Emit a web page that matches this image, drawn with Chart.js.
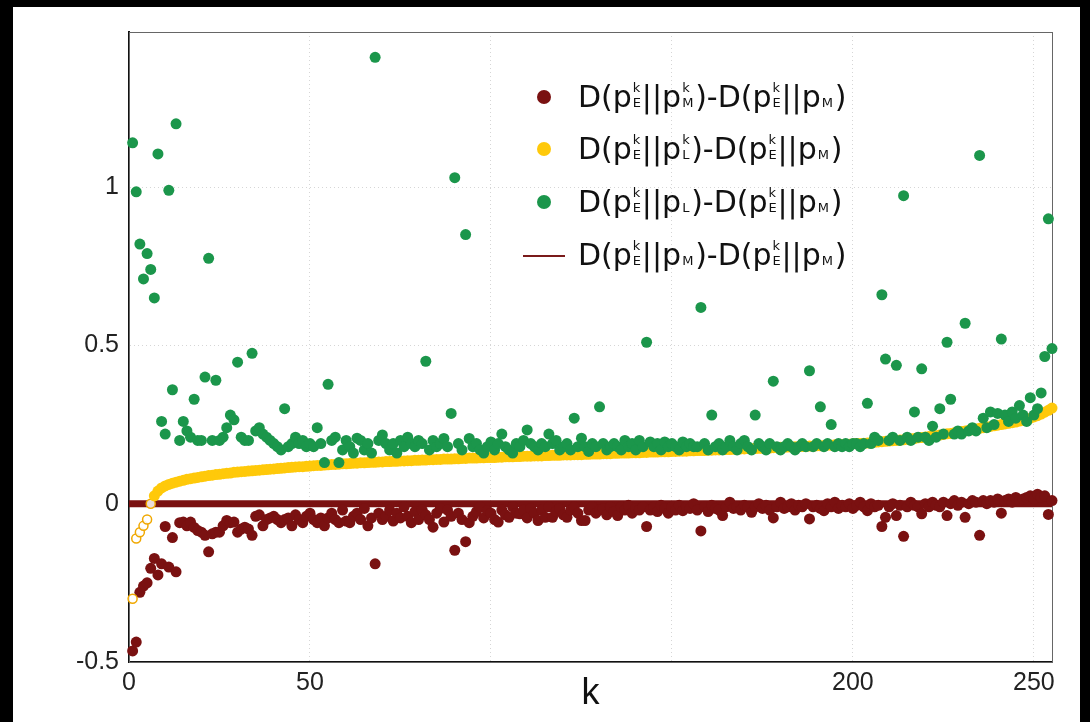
<!DOCTYPE html>
<html>
<head>
<meta charset="utf-8">
<script src="https://cdn.jsdelivr.net/npm/chart.js@4"></script>
<style>
  body { margin:0; background:#000; width:1090px; height:722px; overflow:hidden; position:relative; }
  #panel { position:absolute; left:13px; top:7px; width:1067px; height:715px; background:#fff; }
  #legend { position:absolute; left:520px; top:70px; width:400px; height:220px; font-family:"DejaVu Sans", sans-serif; font-size:30px; color:#111; }
  .row { position:absolute; left:0; height:54px; width:400px; line-height:54px; white-space:nowrap; }
  .dot { position:absolute; left:17px; top:20px; width:14px; height:14px; border-radius:50%; }
  .ln { position:absolute; left:3px; top:27px; width:42px; height:2px; background:#7a1a1a; }
  .txt { position:absolute; left:58px; top:0; }
  .ss { display:inline-block; position:relative; width:10px; height:1px; }
  .ss.w { width:14px; }
  .ss .u, .ss .d { position:absolute; left:1px; font-size:13px; line-height:1; }
  .ss .u { bottom:13px; }
  .ss .d { bottom:-2px; }
</style>
</head>
<body>
<div id="panel"><canvas id="c" width="1067" height="715"></canvas></div>
<div id="legend">
  <div class="row" style="top:0px"><span class="dot" style="background:#7a1111"></span><span class="txt">D(p<span class="ss"><span class="u">k</span><span class="d">E</span></span>||p<span class="ss w"><span class="u">k</span><span class="d">M</span></span>)-D(p<span class="ss"><span class="u">k</span><span class="d">E</span></span>||p<span class="ss w"><span class="d">M</span></span>)</span></div>
  <div class="row" style="top:52px"><span class="dot" style="background:#ffc90a"></span><span class="txt">D(p<span class="ss"><span class="u">k</span><span class="d">E</span></span>||p<span class="ss"><span class="u">k</span><span class="d">L</span></span>)-D(p<span class="ss"><span class="u">k</span><span class="d">E</span></span>||p<span class="ss w"><span class="d">M</span></span>)</span></div>
  <div class="row" style="top:105px"><span class="dot" style="background:#1b964b"></span><span class="txt">D(p<span class="ss"><span class="u">k</span><span class="d">E</span></span>||p<span class="ss"><span class="d">L</span></span>)-D(p<span class="ss"><span class="u">k</span><span class="d">E</span></span>||p<span class="ss w"><span class="d">M</span></span>)</span></div>
  <div class="row" style="top:158px"><span class="ln"></span><span class="txt">D(p<span class="ss"><span class="u">k</span><span class="d">E</span></span>||p<span class="ss w"><span class="d">M</span></span>)-D(p<span class="ss"><span class="u">k</span><span class="d">E</span></span>||p<span class="ss w"><span class="d">M</span></span>)</span></div>
</div>
<script>
// values, k = 1..256 (index + 1)
var diffMk = [ // D(pE^k||pM^k)-D(pE^k||pM)
  -0.465,-0.437,-0.28,-0.26,-0.25,-0.204,-0.173,-0.225,-0.19,-0.072,
  -0.2,-0.107,-0.215,-0.06,-0.058,-0.07,-0.058,-0.075,-0.085,-0.09,
  -0.1,-0.152,-0.095,-0.09,-0.09,-0.07,-0.053,-0.06,-0.058,-0.09,
  -0.08,-0.074,-0.08,-0.1,-0.04,-0.035,-0.07,-0.05,-0.045,-0.04,
  -0.05,-0.06,-0.05,-0.045,-0.07,-0.035,-0.05,-0.06,-0.04,-0.03,
  -0.05,-0.06,-0.045,-0.07,-0.045,-0.03,-0.05,-0.06,-0.02,-0.055,
  -0.06,-0.04,-0.03,-0.05,-0.015,-0.07,-0.045,-0.19,-0.03,-0.05,
  -0.04,-0.02,-0.055,-0.03,-0.045,-0.01,-0.04,-0.06,-0.025,-0.05,
  -0.02,-0.035,-0.05,-0.074,-0.03,-0.015,-0.058,-0.02,-0.04,-0.147,
  -0.03,-0.05,-0.12,-0.06,-0.04,-0.025,-0.01,-0.045,-0.022,-0.03,
  -0.05,-0.058,-0.02,-0.035,-0.043,-0.01,-0.03,-0.032,-0.02,-0.045,
  -0.015,-0.03,-0.053,-0.02,-0.043,-0.01,-0.043,-0.025,-0.015,-0.035,
  -0.043,-0.02,-0.01,-0.03,-0.053,-0.053,-0.02,-0.01,-0.03,-0.02,
  -0.015,-0.035,-0.01,-0.025,-0.0375,-0.01,-0.02,-0.005,-0.03,-0.015,
  -0.02,-0.01,-0.072,-0.02,-0.01,-0.025,-0.005,-0.015,-0.03,-0.01,
  -0.02,-0.005,-0.022,-0.01,-0.015,0.0,-0.02,-0.086,-0.01,-0.025,
  -0.005,-0.015,-0.02,-0.0375,-0.01,0.005,-0.015,-0.01,-0.02,-0.005,
  -0.01,-0.027,-0.01,0.0,-0.015,-0.005,-0.02,-0.045,-0.01,0.005,
  -0.015,-0.01,0.0,-0.02,-0.005,-0.01,0.0,-0.048,-0.01,-0.005,
  -0.015,-0.022,0.0,-0.01,0.005,-0.015,-0.005,-0.01,0.0,-0.015,
  -0.005,0.005,-0.01,-0.022,0.0,-0.01,-0.005,-0.072,-0.043,-0.01,
  0.0,-0.0375,-0.005,-0.103,-0.01,0.005,-0.005,-0.01,-0.032,0.0,
  -0.01,0.005,-0.005,-0.01,0.005,-0.0375,0.0,0.01,-0.005,0.005,
  -0.043,0.0,0.01,0.005,-0.1,0.01,0.0,0.01,0.005,0.015,
  -0.03,0.01,0.015,0.005,0.02,0.01,0.015,0.02,0.025,0.015,
  0.03,0.02,0.025,-0.034,0.01,-0.01
];
var diffLk = [ // D(pE^k||pL^k)-D(pE^k||pM)
  -0.30,-0.11,-0.09,-0.07,-0.05,0.00,0.025,0.04,0.05,0.056,
  0.061,0.065,0.068,0.071,0.074,0.077,0.079,0.081,0.083,0.085,
  0.087,0.089,0.090,0.092,0.093,0.095,0.096,0.097,0.099,0.100,
  0.101,0.102,0.103,0.104,0.105,0.106,0.107,0.108,0.109,0.110,
  0.111,0.112,0.113,0.114,0.115,0.116,0.117,0.117,0.118,0.119,
  0.120,0.121,0.121,0.122,0.123,0.124,0.124,0.125,0.126,0.126,
  0.127,0.128,0.128,0.129,0.129,0.130,0.131,0.131,0.132,0.132,
  0.133,0.133,0.134,0.134,0.135,0.135,0.136,0.136,0.137,0.137,
  0.138,0.138,0.139,0.139,0.140,0.140,0.141,0.141,0.141,0.142,
  0.142,0.143,0.143,0.144,0.144,0.144,0.145,0.145,0.146,0.146,
  0.146,0.147,0.147,0.148,0.148,0.148,0.149,0.149,0.150,0.150,
  0.150,0.151,0.151,0.151,0.152,0.152,0.153,0.153,0.153,0.154,
  0.154,0.154,0.155,0.155,0.155,0.156,0.156,0.157,0.157,0.157,
  0.158,0.158,0.158,0.159,0.159,0.160,0.160,0.160,0.161,0.161,
  0.161,0.162,0.162,0.163,0.163,0.163,0.164,0.164,0.164,0.165,
  0.165,0.166,0.166,0.166,0.167,0.167,0.168,0.168,0.168,0.169,
  0.169,0.170,0.170,0.171,0.171,0.171,0.172,0.172,0.173,0.173,
  0.174,0.174,0.174,0.175,0.175,0.176,0.176,0.177,0.177,0.178,
  0.178,0.179,0.179,0.180,0.180,0.181,0.181,0.182,0.182,0.183,
  0.183,0.184,0.185,0.185,0.186,0.186,0.187,0.188,0.188,0.189,
  0.190,0.190,0.191,0.192,0.193,0.194,0.195,0.196,0.197,0.198,
  0.199,0.200,0.201,0.202,0.204,0.205,0.206,0.208,0.209,0.211,
  0.212,0.214,0.215,0.217,0.219,0.221,0.222,0.224,0.226,0.228,
  0.230,0.232,0.234,0.236,0.238,0.240,0.242,0.244,0.246,0.248,
  0.250,0.252,0.254,0.256,0.258,0.261,0.264,0.267,0.270,0.274,
  0.278,0.283,0.289,0.295,0.302,0.310
];
var diffL = [ // D(pE^k||pL)-D(pE^k||pM)
  1.14,0.985,0.82,0.71,0.79,0.74,0.65,1.105,0.26,0.22,
  0.99,0.36,1.20,0.20,0.26,0.23,0.21,0.33,0.20,0.20,
  0.40,0.775,0.20,0.39,0.20,0.21,0.24,0.28,0.265,0.447,
  0.21,0.20,0.20,0.475,0.23,0.24,0.22,0.21,0.20,0.19,
  0.18,0.17,0.30,0.18,0.19,0.21,0.19,0.20,0.18,0.19,
  0.18,0.24,0.19,0.13,0.377,0.20,0.21,0.13,0.17,0.20,
  0.18,0.16,0.207,0.20,0.17,0.19,0.16,1.41,0.20,0.217,
  0.19,0.17,0.19,0.16,0.20,0.18,0.21,0.19,0.18,0.20,
  0.19,0.45,0.17,0.20,0.18,0.19,0.206,0.18,0.285,1.03,
  0.19,0.17,0.85,0.206,0.18,0.19,0.17,0.16,0.18,0.195,
  0.17,0.19,0.22,0.18,0.17,0.16,0.19,0.18,0.20,0.233,
  0.19,0.18,0.17,0.19,0.18,0.22,0.19,0.20,0.17,0.18,
  0.19,0.17,0.27,0.18,0.207,0.18,0.165,0.19,0.18,0.306,
  0.19,0.17,0.18,0.19,0.18,0.17,0.20,0.18,0.19,0.17,
  0.20,0.18,0.51,0.195,0.18,0.19,0.17,0.195,0.18,0.19,
  0.18,0.17,0.195,0.18,0.19,0.18,0.18,0.62,0.19,0.17,
  0.28,0.18,0.19,0.17,0.18,0.20,0.18,0.17,0.19,0.20,
  0.18,0.17,0.28,0.19,0.18,0.17,0.19,0.387,0.18,0.17,
  0.18,0.19,0.18,0.17,0.18,0.19,0.18,0.42,0.18,0.19,
  0.306,0.18,0.19,0.25,0.18,0.19,0.18,0.19,0.18,0.19,
  0.19,0.18,0.19,0.317,0.19,0.21,0.20,0.66,0.457,0.20,
  0.21,0.437,0.20,0.973,0.21,0.20,0.29,0.21,0.426,0.21,
  0.20,0.245,0.21,0.30,0.22,0.51,0.33,0.22,0.23,0.22,
  0.57,0.23,0.24,0.23,1.10,0.27,0.24,0.29,0.25,0.285,
  0.52,0.28,0.26,0.29,0.27,0.31,0.28,0.26,0.335,0.28,
  0.30,0.35,0.465,0.90,0.49,0.775
];
// reference line D(pE^k||pM)-D(pE^k||pM)
var refK = [0, 255];
var refVals = [0, 0];

var xTicks = [0, 50, 100, 150, 200, 250];
var xTicksShown = [0, 50, 200, 250]; // 100 and 150 carry no label in the original
var yTicks = [-0.5, 0, 0.5, 1];

var RED = "#7a1111", YEL = "#ffc90a", GRN = "#1b964b";

function toPts(vals) {
	return vals.map((v, i) => ({x: i + 1, y: v}));
}

// frame round the plot area
var framePlugin = {
	id: "frame",
	beforeDatasetsDraw(chart) {
		var a = chart.chartArea, ctx = chart.ctx;
		ctx.save();
		ctx.strokeStyle = "#666";
		ctx.lineWidth = 1;
		ctx.strokeRect(a.left + 0.5, a.top + 0.5, a.right - a.left, a.bottom - a.top);
		ctx.restore();
	}
};

var ctx = document.getElementById("c").getContext("2d");
var chart = new Chart(ctx, {
	type: "scatter",
	data: {
		datasets: [
			{ label: "green", data: toPts(diffL), backgroundColor: GRN, borderWidth: 0, pointRadius: 5.5, clip: false },
			{ label: "yellow", data: toPts(diffLk), clip: false,
				pointRadius: c => c.dataIndex < 6 ? 4.5 : 5.5,
				backgroundColor: c => c.dataIndex < 6 ? "rgba(255,255,255,0.85)" : YEL,
				borderColor: c => c.dataIndex < 6 ? "#f0a800" : YEL,
				borderWidth: c => c.dataIndex < 6 ? 1.5 : 0 },
			{ label: "red", data: toPts(diffMk), backgroundColor: RED, borderWidth: 0, pointRadius: 5.5, clip: false },
			{ label: "ref", type: "line", data: refK.map((k, i) => ({x: k, y: refVals[i]})),
				borderColor: RED, borderWidth: 7, pointRadius: 0, fill: false }
		]
	},
	options: {
		responsive: false,
		devicePixelRatio: 1,
		animation: false,
		events: [],
		layout: { padding: { top: 23, right: 28, left: 0, bottom: 0 } },
		plugins: { legend: { display: false }, tooltip: { enabled: false } },
		scales: {
			x: {
				type: "linear", min: 0, max: 255,
				afterFit: s => { s.height = 60; },
				afterBuildTicks: s => { s.ticks = xTicks.map(v => ({value: v})); },
				ticks: {
					padding: 6, color: "#222", maxRotation: 0, autoSkip: false,
					font: { family: "Liberation Sans", size: 25 },
					callback: v => xTicksShown.includes(v) ? String(v) : ""
				},
				grid: { color: c => c.tick && c.tick.value === 0 ? "rgba(0,0,0,0)" : "#d6d6d6", lineWidth: 1, drawTicks: false },
				border: { color: "#111", width: 2, dash: [1, 3] },
				title: { display: true, text: "k", color: "#111", padding: { top: 0, bottom: 6 },
					font: { family: "Liberation Sans", size: 36 } }
			},
			y: {
				min: -0.5, max: 1.49,
				afterFit: s => { s.width = 116; },
				afterBuildTicks: s => { s.ticks = yTicks.map(v => ({value: v})); },
				ticks: {
					padding: 10, color: "#222",
					font: { family: "Liberation Sans", size: 25 },
					callback: v => String(v)
				},
				grid: { color: c => c.tick.value === 0 || c.tick.value === -0.5 ? "rgba(0,0,0,0)" : "#d6d6d6", lineWidth: 1, drawTicks: false },
				border: { color: "#111", width: 2, dash: [1, 3] }
			}
		}
	},
	plugins: [framePlugin]
});
</script>
</body>
</html>
